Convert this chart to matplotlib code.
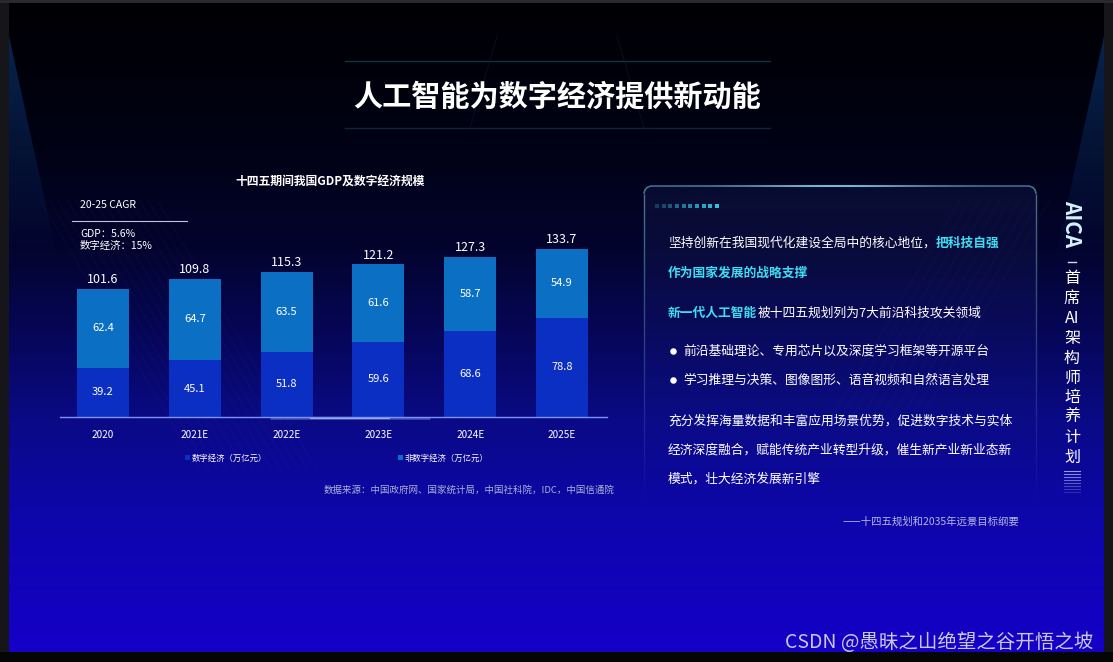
import matplotlib
matplotlib.use('Agg')
import matplotlib.pyplot as plt
import numpy as np
from matplotlib.patches import Polygon, Arc
from matplotlib.collections import LineCollection
from matplotlib.colors import to_rgb

plt.rcParams['font.family'] = ['Noto Sans CJK SC', 'DejaVu Sans']

# ---- data ----
years = ['2020', '2021E', '2022E', '2023E', '2024E', '2025E']
digital = [39.2, 45.1, 51.8, 59.6, 68.6, 78.8]
non_digital = [62.4, 64.7, 63.5, 61.6, 58.7, 54.9]
series_names = ['数字经济（万亿元）', '非数字经济（万亿元）']
cagr_title = '20-25 CAGR'
cagr_lines = ['GDP：5.6%', '数字经济：15%']

slide_title = '人工智能为数字经济提供新动能'
chart_title = '十四五期间我国GDP及数字经济规模'
source_note = '数据来源：中国政府网、国家统计局，中国社科院，IDC，中国信通院'
quote_note = '——十四五规划和2035年远景目标纲要'
side_chars = ['首', '席', 'AI', '架', '构', '师', '培', '养', '计', '划']

W, H = 1113, 662
CYAN = '#3fdcf2'
DIGITAL_C = '#0a2fc2'
NON_DIGITAL_C = '#0b6fc4'

fig = plt.figure(figsize=(W / 100, H / 100), dpi=100)
fig.patch.set_facecolor('#16161a')

# background axes in pixel coordinates
bg = fig.add_axes([0, 0, 1, 1])
bg.set_xlim(0, W)
bg.set_ylim(H, 0)
bg.axis('off')

bg.add_patch(plt.Rectangle((0, 0), W, 3, color='#2a2a2e', lw=0))
bg.add_patch(plt.Rectangle((0, 652), W, 10, color='#050505', lw=0))

# slide gradient
stop_y = [3, 150, 250, 330, 420, 520, 652]
stop_c = ['#000003', '#010215', '#03042e', '#060656', '#0a0a86', '#0e06ac', '#1500c8']
ys = np.linspace(3, 652, 400)
rgb = np.array([to_rgb(c) for c in stop_c])
grad = np.stack([np.interp(ys, stop_y, rgb[:, k]) for k in range(3)], axis=-1)
bg.imshow(grad[:, None, :], extent=(9, 1104, 652, 3), aspect='auto', zorder=0)

# corner glows, fading downwards
glow = np.zeros((100, 1, 4))
glow[..., :3] = to_rgb('#1250a8')
glow[:, 0, 3] = np.linspace(0.45, 0.0, 100)
for pts in ([(9, 36), (9, 260), (58, 260)], [(1104, 36), (1104, 260), (1055, 260)]):
    clip = Polygon(pts, closed=True, transform=bg.transData)
    xs_ = [p[0] for p in pts]
    im = bg.imshow(glow, extent=(min(xs_), max(xs_), 260, 36), aspect='auto', zorder=1)
    im.set_clip_path(clip)

# faint diagonal texture
for k in range(14):
    x0 = 40 + k * 9
    bg.plot([x0, x0 + 160], [200, 470], color='#6a7cff', alpha=0.05, lw=0.6, zorder=1.2)
for k in range(10):
    x0 = 960 + k * 10
    bg.plot([x0, x0 - 130], [200, 420], color='#6a7cff', alpha=0.05, lw=0.6, zorder=1.2)

# title decoration
bg.plot([345, 770], [61, 61], color='#1f6a66', alpha=0.5, lw=1, zorder=2)
bg.plot([345, 770], [128, 128], color='#1f6a66', alpha=0.4, lw=1, zorder=2)
bg.plot([497, 470], [36, 128], color='#14203a', alpha=0.4, lw=0.8, zorder=2)
bg.plot([617, 644], [36, 128], color='#14203a', alpha=0.4, lw=0.8, zorder=2)

bg.text(557, 97, slide_title, color='white', fontsize=21, fontweight='bold',
        ha='center', va='center', zorder=5)

# ---- chart ----
ax = fig.add_axes([60 / W, 1 - 417 / H, 547 / W, 176.4 / H])
ax.set_facecolor('none')
x = np.arange(len(years))
b1 = ax.bar(x, digital, width=0.566, color=DIGITAL_C, lw=0, label=series_names[0])
b2 = ax.bar(x, non_digital, width=0.566, bottom=digital, color=NON_DIGITAL_C, lw=0,
            label=series_names[1])
totals = np.add(digital, non_digital)
ax.bar_label(b1, fmt='%.1f', label_type='center', color='white', fontsize=8)
ax.bar_label(b2, fmt='%.1f', label_type='center', color='white', fontsize=8)
ax.bar_label(b2, labels=[f'{t:.1f}' for t in totals], padding=2, color='white', fontsize=9)
ax.set_xlim(-0.468, 5.49)
ax.set_ylim(0, 140)
ax.set_xticks(x, years)
ax.tick_params(axis='x', length=0, pad=9, colors='white', labelsize=7.2)
for lab in ax.get_xticklabels():
    lab.set_fontweight('medium')
ax.set_yticks([])
for s in ['top', 'right', 'left']:
    ax.spines[s].set_visible(False)
ax.spines['bottom'].set_color('#8090f0')
ax.spines['bottom'].set_linewidth(1.0)

# glow in the middle of the axis line
bg.plot([270, 430], [417.5, 417.5], color='#a8d8ff', lw=1.8, alpha=0.35, zorder=6,
        solid_capstyle='butt')
bg.plot([310, 390], [417.5, 417.5], color='#d0f0ff', lw=1.6, alpha=0.6, zorder=6,
        solid_capstyle='butt')

leg = ax.legend(handles=[b1, b2], ncol=2, loc='center left',
                bbox_to_anchor=(181 / W, 1 - 458 / H), bbox_transform=fig.transFigure,
                frameon=False, fontsize=6, labelcolor='white', handlelength=0.6,
                handleheight=0.6, handletextpad=0.15, columnspacing=15.8, borderpad=0)

bg.text(330, 182, chart_title, color='white', fontsize=8.5, fontweight='bold',
        ha='center', va='center', zorder=5)
bg.text(80, 205, cagr_title, color='white', fontsize=7.5, ha='left', va='center', zorder=5)
bg.plot([72, 187], [221, 221], color='#c0c4e0', lw=0.8, zorder=5)
for i, line in enumerate(cagr_lines):
    bg.text(80, 234 + 12 * i, line, color='white', fontsize=7.5, ha='left', va='center', zorder=5)
bg.text(614, 490, source_note, color='#aeb2d6', fontsize=6.8, ha='right', va='center', zorder=5)

# ---- right panel ----
px0, px1, py0, py1, r = 644, 1036, 186, 505, 8
fill = np.zeros((100, 1, 4))
fill[..., :3] = to_rgb('#3a4aa8')
fill[:, 0, 3] = np.linspace(0.14, 0.0, 100)
bg.imshow(fill, extent=(px0, px1, py1, py0), aspect='auto', zorder=2)

tx = np.linspace(px0 + r, px1 - r, 120)
ta = 0.45 + 0.55 * np.exp(-((tx[:-1] - 833) / 90) ** 2)
seg = [[(tx[i], py0), (tx[i + 1], py0)] for i in range(len(tx) - 1)]
bg.add_collection(LineCollection(seg, colors=[(0.55, 0.88, 0.95, a) for a in ta],
                                 linewidths=1.2, capstyle='butt', zorder=3))
sy = np.linspace(py0 + r, py1, 80)
sa = np.linspace(0.5, 0.0, 79)
for sx in (px0, px1):
    seg = [[(sx, sy[i]), (sx, sy[i + 1])] for i in range(len(sy) - 1)]
    bg.add_collection(LineCollection(seg, colors=[(0.55, 0.88, 0.95, a) for a in sa],
                                     linewidths=1.0, capstyle='butt', zorder=3))
bg.add_patch(Arc((px0 + r, py0 + r), 2 * r, 2 * r, theta1=180, theta2=270,
                 color=(0.55, 0.88, 0.95), alpha=0.5, lw=1.1, zorder=3))
bg.add_patch(Arc((px1 - r, py0 + r), 2 * r, 2 * r, theta1=270, theta2=360,
                 color=(0.55, 0.88, 0.95), alpha=0.5, lw=1.1, zorder=3))

dx = np.linspace(657, 717, 10)
bg.scatter(dx, np.full(10, 206), marker='s', s=9, lw=0, zorder=4,
           color=[(0.2, 0.8, 0.9, a) for a in np.linspace(0.25, 0.95, 10)])

fig.canvas.draw()
renderer = fig.canvas.get_renderer()


def run_text(x0, y0, parts, fs=9.2):
    # place coloured segments one after another on one line
    xx = x0
    for s, c, w in parts:
        t = bg.text(xx, y0, s, color=c, fontsize=fs, fontweight=w,
                    ha='left', va='center', zorder=5)
        bb = t.get_window_extent(renderer)
        xx += bb.width * W / fig.bbox.width


run_text(668, 243, [('坚持创新在我国现代化建设全局中的核心地位，', 'white', 'normal'),
                    ('把科技自强', CYAN, 'bold')])
run_text(668, 273, [('作为国家发展的战略支撑', CYAN, 'bold')])
run_text(668, 313, [('新一代人工智能', CYAN, 'bold'),
                    ('被十四五规划列为7大前沿科技攻关领域', 'white', 'normal')])
bullets = ['前沿基础理论、专用芯片以及深度学习框架等开源平台',
           '学习推理与决策、图像图形、语音视频和自然语言处理']
for i, b in enumerate(bullets):
    yy = 351 + 29 * i
    bg.scatter([673], [yy], s=22, color='white', zorder=5, lw=0)
    run_text(683, yy, [(b, 'white', 'normal')])
para = ['充分发挥海量数据和丰富应用场景优势，促进数字技术与实体',
        '经济深度融合，赋能传统产业转型升级，催生新产业新业态新',
        '模式，壮大经济发展新引擎']
for i, p in enumerate(para):
    run_text(668, 421 + 29 * i, [(p, 'white', 'normal')])
bg.text(1019, 522, quote_note, color='#b4b8dc', fontsize=7.5, ha='right', va='center', zorder=5)

# ---- vertical side text ----
bg.text(1072, 224, 'AICA', color='#d6f2ff', fontsize=15, fontweight='bold', rotation=-90,
        ha='center', va='center', zorder=5)
bg.plot([1068, 1076], [262, 262], color='#c8d8ff', lw=1, zorder=5)
for i, ch in enumerate(side_chars):
    bg.text(1072, 279 + 19.8 * i, ch, color='white', fontsize=11.5, fontweight='medium',
            ha='center', va='center', zorder=5)
for i in range(8):
    bg.plot([1064, 1080], [471 + 3 * i] * 2, color='#c8d0ff',
            alpha=0.75 - 0.08 * i, lw=0.8, zorder=5)

bg.text(785, 642, 'CSDN @愚昧之山绝望之谷开悟之坡', color='#c8c8dc', fontsize=14,
        ha='left', va='center', zorder=6)

fig.savefig('out.png', dpi=100, facecolor=fig.get_facecolor())
